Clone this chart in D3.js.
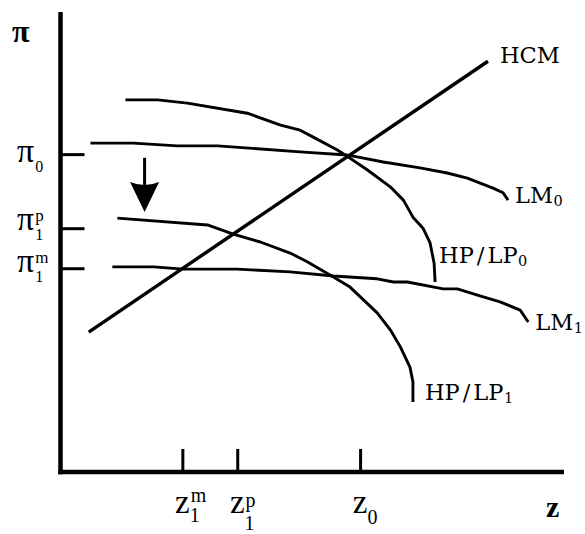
<!DOCTYPE html>
<html><head><meta charset="utf-8">
<script src="https://cdn.jsdelivr.net/npm/d3@7"></script>
<style>body{margin:0;background:#fff}svg{display:block}text{font-family:"DejaVu Serif",serif;fill:#000}text.sym{font-family:"Liberation Serif",serif}</style>
</head><body><svg id="c" width="585" height="534"></svg>
<script>
// ---- data (z, pi) in arbitrary 0-100 units ----
const hcm   = [[5.6,30.4],[84.9,89.3]];
const lm0   = [[5.95,71.5],[14.5,71.5],[23.2,70.9],[31.2,70.9],[47.6,69.6],[56.9,68.9],[58.9,68.5],[64.1,67.4],[71.4,66.1],[76.8,65.0],[80.8,63.9],[85.9,61.7],[87.9,60.7],[88.9,59.1]];
const hplp0 = [[12.9,80.9],[19.3,80.9],[25.2,80.2],[37.1,78.0],[43.7,75.4],[47.6,74.3],[50.2,72.8],[55.0,70.0],[57.1,68.5],[60.9,65.7],[65.5,62.0],[68.1,59.1],[70.0,55.4],[72.0,53.0],[73.4,49.8],[74.2,45.4],[74.4,41.3]];
const hplp1 = [[11.3,55.2],[29.2,53.7],[34.3,51.7],[39.7,50.0],[45.6,47.6],[49.0,45.7],[54.2,42.4],[57.5,40.2],[62.9,34.6],[65.5,30.9],[67.5,27.2],[69.4,22.8],[70.0,19.6],[70.0,15.2]];
const lm1   = [[10.3,44.6],[18.5,44.6],[24.4,44.1],[35.1,44.1],[45.6,43.5],[54.2,42.6],[62.9,42.0],[66.1,41.3],[68.9,41.3],[76.0,39.8],[78.8,39.8],[83.3,38.3],[87.3,37.0],[91.3,35.2],[92.9,32.6]];
const curveNames = ["HCM","LM","HP/LP","LM","HP/LP"];
const curveSubs  = ["","0","0","1","1"];
const yTickValues = [69.1, 53.0, 44.3];
const yTickBase = ["π","π","π"];
const yTickSub  = ["0","1","1"];
const yTickSup  = ["","p","m"];
const xTickValues = [24.2, 35.1, 59.5];
const xTickBase = ["z","z","z"];
const xTickSub  = ["1","1","0"];
const xTickSup  = ["m","p",""];
const axisTitleY = "π";
const axisTitleX = "z";
const shiftArrow = [16.7, 68.3, 56.5]; // z, from pi, to pi

// ---- layout ----
const svg = d3.select("#c");
const x = d3.scaleLinear([0,100],[60.5,564]);
const y = d3.scaleLinear([0,100],[472,12]);

// axes
const gy = svg.append("g").attr("transform",`translate(${x(0)},0)`)
  .call(d3.axisLeft(y).tickValues(yTickValues).tickSize(-24).tickSizeOuter(0).tickFormat(""));
const gx = svg.append("g").attr("transform",`translate(0,${y(0)})`)
  .call(d3.axisBottom(x).tickValues(xTickValues).tickSize(-23).tickSizeOuter(0).tickFormat(""));
[gy,gx].forEach(g=>{
  g.select(".domain").attr("stroke","#000").attr("stroke-width",4.5);
  g.selectAll(".tick line").attr("stroke","#000").attr("stroke-width",3);
});
gy.select(".domain").attr("d",`M0,${y(100)}V${y(0)+2.2}`);
gx.select(".domain").attr("d",`M${x(0)-2.2},0H${x(100)}`);

// curves
const line = d3.line().x(d=>x(d[0])).y(d=>y(d[1])).curve(d3.curveLinear);
const curves = [hcm, lm0, hplp0, lm1, hplp1];
const widths = [3.4, 2.9, 2.9, 2.9, 2.9];
svg.selectAll("path.curve").data(curves).join("path").attr("class","curve")
  .attr("d",line).attr("fill","none").attr("stroke","#000")
  .attr("stroke-width",(d,i)=>widths[i]).attr("stroke-linecap","butt").attr("stroke-linejoin","round");

// curve labels, offset from curve end
const labelOff = [[12,2],[7,3],[4,-19],[7,8],[12,-2]];
curves.forEach((c,i)=>{
  const e = c[c.length-1];
  const tx = x(e[0])+labelOff[i][0], ty = y(e[1])+labelOff[i][1];
  const t = svg.append("text").attr("x",tx).attr("y",ty).attr("font-size",22.5);
  const parts = curveNames[i].split("/");
  parts.forEach((p,k)=>{
    if (k>0) t.append("tspan").attr("dx",3).text("/");
    t.append("tspan").attr("dx",k>0?3:0).text(p);
  });
  if (curveSubs[i]) {
    const bb = t.node().getBBox();
    svg.append("text").attr("x",bb.x+bb.width+0.5).attr("y",ty+3).attr("font-size",14.5).text(curveSubs[i]);
  }
});

// y tick labels
const yLabDy = [8,2,4];
yTickValues.forEach((v,i)=>{
  const by = y(v)+yLabDy[i];
  const t = svg.append("text").attr("class","sym").attr("x",17).attr("y",by).attr("font-size",34).text(yTickBase[i]);
  const bb = t.node().getBBox(); const xr = bb.x+bb.width;
  if (yTickSub[i]) svg.append("text").attr("class","sym").attr("x",xr+1).attr("y",by+10).attr("font-size",16).text(yTickSub[i]);
  if (yTickSup[i]) svg.append("text").attr("class","sym").attr("x",xr+1).attr("y",by-9).attr("font-size",17).text(yTickSup[i]);
});

// x tick labels
const xSubDy = [9,17,11], xSupDy = [-11,-6,0];
xTickValues.forEach((v,i)=>{
  const by = 513;
  const t = svg.append("text").attr("class","sym").attr("x",x(v)).attr("y",by).attr("font-size",33).attr("text-anchor","middle").text(xTickBase[i]);
  const bb = t.node().getBBox(); const xr = bb.x+bb.width;
  if (xTickSub[i]) svg.append("text").attr("class","sym").attr("x",xr).attr("y",by+xSubDy[i]).attr("font-size",20).text(xTickSub[i]);
  if (xTickSup[i]) svg.append("text").attr("class","sym").attr("x",xr+1).attr("y",by+xSupDy[i]).attr("font-size",20).text(xTickSup[i]);
});

// axis titles
svg.append("text").attr("class","sym").attr("x",12).attr("y",42).attr("font-size",32).attr("font-weight","bold").text(axisTitleY);
svg.append("text").attr("class","sym").attr("x",546).attr("y",517).attr("font-size",30).attr("font-weight","bold").text(axisTitleX);

// shift arrow
const ax = x(shiftArrow[0]), ay0 = y(shiftArrow[1]), ay1 = y(shiftArrow[2]);
const headH = 30, headW = 29;
svg.append("line").attr("x1",ax).attr("x2",ax).attr("y1",ay0).attr("y2",ay1-headH+4)
  .attr("stroke","#000").attr("stroke-width",3);
svg.append("path").attr("fill","#000")
  .attr("d",`M${ax-headW/2},${ay1-headH}Q${ax},${ay1-headH+6} ${ax+headW/2},${ay1-headH}L${ax},${ay1}Z`);
</script></body></html>
